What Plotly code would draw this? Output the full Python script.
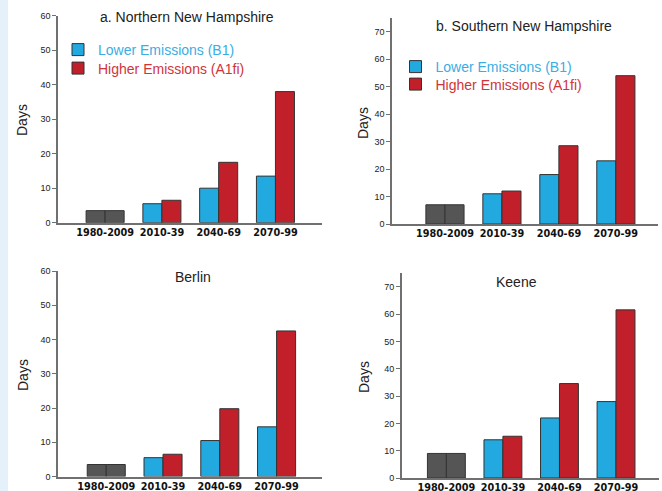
import plotly.graph_objects as go

periods = ["1980-2009", "2010-39", "2040-69", "2070-99"]
future = periods[1:]

panel_titles = ["a. Northern New Hampshire", "b. Southern New Hampshire", "Berlin", "Keene"]
baseline = [3.5, 7, 3.5, 9]
lower_b1 = [[5.5, 10, 13.5], [11, 18, 23], [5.5, 10.5, 14.5], [14, 22, 28]]
higher_a1fi = [[6.5, 17.5, 38], [12, 28.5, 54], [6.5, 19.8, 42.5], [15.3, 34.6, 61.6]]
y_max = [60, 75, 60, 75]
y_ticks = [[0, 10, 20, 30, 40, 50, 60], [0, 10, 20, 30, 40, 50, 60, 70],
           [0, 10, 20, 30, 40, 50, 60], [0, 10, 20, 30, 40, 50, 60, 70]]

W, H = 662, 491
BLUE = "#22a9e0"
RED = "#c1202a"
GRAY = "#555555"
EDGE = "#333333"
AXC = "#707070"

# pixel layout of each panel: (left, right, zero_y, top_y)
boxes = [(58, 322, 222.7, 15.7), (392, 658, 224, 18), (58, 322, 476.5, 271), (401.7, 659, 478, 273.3)]
xranges = [(-0.83, 3.82), (-0.93, 3.74), (-0.85, 3.80), (-0.79, 3.76)]
title_pos = [(187, 17), (524, 26), (193, 277), (516, 282)]
days_pos = [(22, 120), (363, 123), (23, 375), (364, 377)]
# legend symbol centres (x, y) for blue and red entries of panels a and b
legend_pos = [[(78, 49), (78, 67.5)], [(415.5, 66), (415.5, 83.5)]]

fig = go.Figure()
bw = 0.335
for i in range(4):
    xa = "x" if i == 0 else f"x{i+1}"
    ya = "y" if i == 0 else f"y{i+1}"
    show = i < 2
    leg_b = "legend" if i == 0 else "legend3"
    leg_r = "legend2" if i == 0 else "legend4"
    fig.add_trace(go.Bar(x=[periods[0], periods[0]], y=[baseline[i], baseline[i]],
                         offset=[-bw, 0], width=bw, xaxis=xa, yaxis=ya,
                         marker=dict(color=GRAY, line=dict(color=EDGE, width=1)),
                         showlegend=False, hoverinfo="skip"))
    fig.add_trace(go.Bar(x=future, y=lower_b1[i], offset=-bw, width=bw, xaxis=xa, yaxis=ya,
                         name='<span style="color:#3aaee4">Lower Emissions (B1)</span>',
                         marker=dict(color=BLUE, line=dict(color=EDGE, width=1)),
                         showlegend=show, legend=leg_b))
    fig.add_trace(go.Bar(x=future, y=higher_a1fi[i], offset=0, width=bw, xaxis=xa, yaxis=ya,
                         name='<span style="color:#d0343a">Higher Emissions (A1fi)</span>',
                         marker=dict(color=RED, line=dict(color=EDGE, width=1)),
                         showlegend=show, legend=leg_r))

layout = dict(width=W, height=H, margin=dict(l=0, r=0, t=0, b=0, autoexpand=False),
              paper_bgcolor="white", plot_bgcolor="white", barmode="overlay",
              font=dict(family="Liberation Sans, Arial, sans-serif", color="#222"))

annotations = []
for i in range(4):
    l, r, z, t = boxes[i]
    sfx = "" if i == 0 else str(i + 1)
    layout[f"xaxis{sfx}"] = dict(domain=[l / W, r / W], anchor=f"y{sfx}", type="category",
                                 categoryorder="array", categoryarray=periods, automargin=False,
                                 range=list(xranges[i]), showline=True, linecolor=AXC, linewidth=1.5,
                                 ticks="", showgrid=False, zeroline=False,
                                 tickfont=dict(family="DejaVu Sans", size=9.7, color="#111", weight="bold"))
    layout[f"yaxis{sfx}"] = dict(domain=[1 - z / H, 1 - t / H], anchor=f"x{sfx}", automargin=False,
                                 range=[0, y_max[i]], tickvals=y_ticks[i], showline=True,
                                 linecolor=AXC, linewidth=1.5, ticks="outside", ticklen=4,
                                 tickcolor=AXC, tickwidth=1, showgrid=False, zeroline=False,
                                 tickfont=dict(size=9, color="#222"))
    rid = 4 + i + 1
    layout[f"yaxis{rid}"] = dict(domain=[1 - z / H, 1 - t / H], anchor=f"x{sfx}", automargin=False,
                                 overlaying=f"y{sfx}", side="right", range=[0, y_max[i]],
                                 tickvals=y_ticks[i], showline=True, linecolor=AXC, linewidth=1.5,
                                 ticks="outside", ticklen=5, tickcolor=AXC, tickwidth=1,
                                 showticklabels=False, showgrid=False, zeroline=False)
    tx, ty = title_pos[i]
    annotations.append(dict(text=panel_titles[i], x=tx / W, y=1 - ty / H, xref="paper", yref="paper",
                            showarrow=False, xanchor="center", yanchor="middle",
                            font=dict(size=14, color="#222")))
    dx, dy = days_pos[i]
    annotations.append(dict(text="Days", x=dx / W, y=1 - dy / H, xref="paper", yref="paper",
                            showarrow=False, xanchor="center", yanchor="middle", textangle=-90,
                            font=dict(size=14, color="#222")))

layout["annotations"] = annotations
legend_common = dict(bgcolor="rgba(0,0,0,0)", borderwidth=0, itemwidth=30,
                     font=dict(size=14), xanchor="left", yanchor="top", tracegroupgap=0,
                     itemclick=False)
names = ["legend", "legend2", "legend3", "legend4"]
k = 0
for p in range(2):
    for j in range(2):
        cx, cy = legend_pos[p][j]
        layout[names[k]] = dict(x=(cx - 20) / W, y=1 - (cy - 15) / H, **legend_common)
        k += 1
layout["shapes"] = [dict(type="rect", xref="paper", yref="paper", x0=0, x1=8 / W, y0=0, y1=1,
                         fillcolor="#e4f1fb", line=dict(width=0), layer="below")]

fig.update_layout(**layout)
fig.write_html("out.html", config={"displayModeBar": False},
               post_script="document.body.style.margin='0';")
